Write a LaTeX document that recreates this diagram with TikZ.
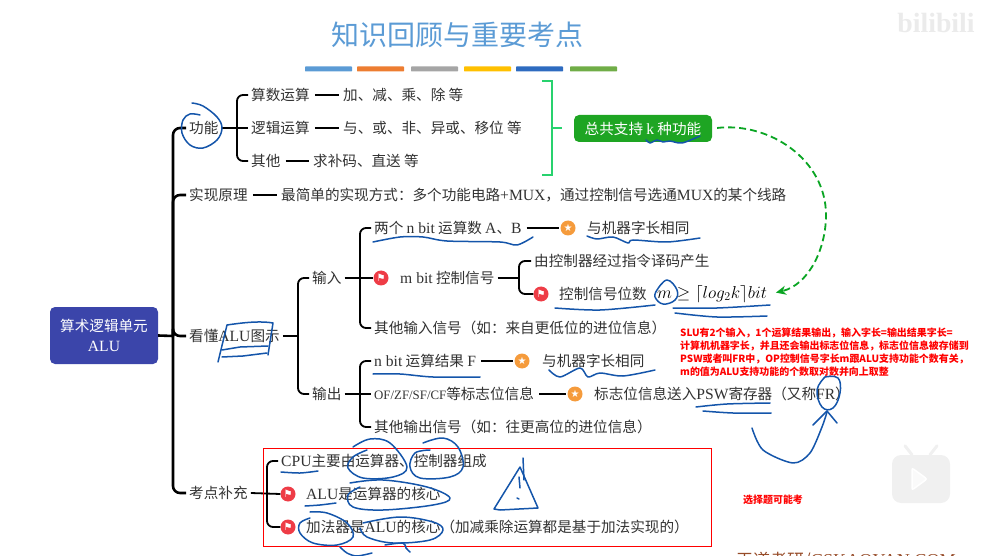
\documentclass[tikz,border=0pt]{standalone}
\usepackage{fontspec}
\setmainfont{Noto Sans CJK SC}
\newfontfamily\latf[Scale=1.07]{Liberation Serif}
\newfontfamily\symf{DejaVu Sans}
\usetikzlibrary{arrows.meta,shapes.misc}
\definecolor{titleblue}{RGB}{91,155,213}
\definecolor{rootblue}{RGB}{59,69,170}
\definecolor{boxgreen}{RGB}{30,165,35}
\definecolor{brackgreen}{RGB}{40,210,110}
\definecolor{dashgreen}{RGB}{10,165,35}
\definecolor{inkblue}{RGB}{20,85,170}
\definecolor{badgeorange}{RGB}{245,155,60}
\definecolor{badgered}{RGB}{238,60,70}
\definecolor{mapgrey}{RGB}{50,50,50}
\newcommand{\lat}[1]{{\latf #1}}
\tikzset{
  item/.style={anchor=west,inner sep=3pt,text=mapgrey,font=\fontsize{14.6}{17}\selectfont},
  rootbox/.style={draw=none,fill=rootblue,rounded corners=5pt,text=white,align=center,
                  minimum width=108pt,minimum height=57pt,inner sep=0pt,
                  font=\fontsize{14.6}{20}\selectfont},
  greenbox/.style={fill=boxgreen,rounded corners=5pt,text=white,minimum width=138pt,
                   minimum height=27pt,inner sep=0pt,font=\fontsize{14.6}{17}\selectfont},
  stembar/.style={draw=black,line width=2.6pt,rounded corners=7pt},
  brace/.style={draw=black,line width=1.8pt,rounded corners=6pt},
  dashlink/.style={draw=black,line width=1.8pt,shorten <=2pt,shorten >=1pt},
  greenbrace/.style={draw=brackgreen,line width=1.6pt},
  dashback/.style={draw=dashgreen,line width=1.8pt,dash pattern=on 7pt off 4pt,shorten <=5pt,
                   shorten >=6pt,-{Stealth[length=10pt,width=9pt,inset=3pt]}},
  starbadge/.style={circle,fill=badgeorange,text=white,minimum size=15pt,inner sep=0pt,
                    font=\symf\fontsize{10}{10}\selectfont},
  flagbadge/.style={circle,fill=badgered,text=white,minimum size=15pt,inner sep=0pt,
                    font=\symf\fontsize{10}{10}\selectfont},
  ink/.style={draw=inkblue,line width=1.5pt,line cap=round,line join=round},
  redtext/.style={anchor=west,inner sep=0pt,text=red,font=\bfseries\fontsize{9.95}{12}\selectfont},
  colorbar/.style={minimum width=47pt,minimum height=5pt,inner sep=0pt,rounded corners=.6pt},
}
\begin{document}
\begin{tikzpicture}[x=1pt,y=-1pt]
  \useasboundingbox (0,0) rectangle (983,556);
  \clip (0,0) rectangle (983,556);
  % title and the colour strip
  \node[text=titleblue,font=\fontsize{28}{30}\selectfont] (title) at (457,35) {知识回顾与重要考点};
  \node[colorbar,fill=titleblue] (bar1) at (328.5,69) {};
  \node[colorbar,fill={rgb,255:red,237;green,125;blue,49}] (bar2) at (380.5,69) {};
  \node[colorbar,fill={rgb,255:red,165;green,165;blue,165}] (bar3) at (434.5,69) {};
  \node[colorbar,fill={rgb,255:red,255;green,192;blue,0}] (bar4) at (487.5,69) {};
  \node[colorbar,fill={rgb,255:red,46;green,107;blue,192}] (bar5) at (539.5,69) {};
  \node[colorbar,fill={rgb,255:red,112;green,173;blue,71}] (bar6) at (593.5,69) {};
  % root and first level
  \node[rootbox] (root) at (104,335.5) {算术逻辑单元\\\lat{ALU}};
  \coordinate (hub) at (173,336);
  \node[item] (gongneng) at (186,128) {功能};
  \node[item] (yuanli) at (186,195) {实现原理};
  \node[item] (kandong) at (186,336) {看懂\lat{ALU}图示};
  \node[item] (kaodian) at (186,493) {考点补充};
  \draw[stembar] (root.east) -- (hub);
  \foreach \n in {gongneng,yuanli,kandong,kaodian}
    \draw[stembar] (hub) |- (\n.west);
  % gongneng branch
  \coordinate (hubg) at (237,128);
  \node[item] (suan) at (248,95) {算数运算};
  \node[item] (luoji) at (248,128) {逻辑运算};
  \node[item] (qita) at (248,161) {其他};
  \node[item] (suanv) at (340,95) {加、减、乘、除 等};
  \node[item] (luojiv) at (340,128) {与、或、非、异或、移位 等};
  \node[item] (qitav) at (310,161) {求补码、直送 等};
  \draw[brace] (gongneng.east) -- (luoji.west);
  \foreach \n in {suan,qita}
    \draw[brace] (hubg) |- (\n.west);
  \draw[dashlink] (suan) -- (suanv);
  \draw[dashlink] (luoji) -- (luojiv);
  \draw[dashlink] (qita) -- (qitav);
  % green summary
  \node[greenbox] (zonggong) at (643,128.5) {总共支持 \lat{k} 种功能};
  \coordinate (gtop) at (542,81);
  \coordinate (gbot) at (542,175);
  \draw[greenbrace] (gtop) -- (552,81) -- (552,175) -- (gbot);
  \draw[greenbrace] (552,128) -- (562,128);
  % principle
  \node[item] (yuanliv) at (278,195) {最简单的实现方式：多个功能电路\lat{+MUX}，通过控制信号选通\lat{MUX}的某个线路};
  \draw[dashlink] (yuanli) -- (yuanliv);
  % ALU picture: input and output
  \coordinate (hubk) at (298,336);
  \node[item] (shuru) at (309,278) {输入};
  \node[item] (shuchu) at (309,394) {输出};
  \draw[brace] (kandong.east) -- (hubk);
  \foreach \n in {shuru,shuchu}
    \draw[brace] (hubk) |- (\n.west);
  % inputs
  \coordinate (hubi) at (360,278);
  \node[item] (inab) at (371,228) {两个 \lat{n bit} 运算数 \lat{A}、\lat{B}};
  \node[starbadge] (staria) at (568,228) {★};
  \node[item] (inabv) at (584,228) {与机器字长相同};
  \node[flagbadge] (flagc) at (381,278) {⚑};
  \node[item] (inctl) at (397,278) {\lat{m bit} 控制信号};
  \node[item] (inoth) at (371,328) {其他输入信号（如：来自更低位的进位信息）};
  \draw[brace] (shuru.east) -- (flagc.west);
  \foreach \n in {inab,inoth}
    \draw[brace] (hubi) |- (\n.west);
  \draw[dashlink] (inab) -- (staria);
  % control signal
  \coordinate (hubc) at (519,278);
  \node[item] (ctla) at (531,261) {由控制器经过指令译码产生};
  \node[flagbadge] (flagb) at (541,294) {⚑};
  \node[item] (ctlb) at (556,294) {控制信号位数};
  \node[item,font=\fontsize{17}{20}\selectfont,text=black] (formula) at (654,294) {$m \geq \lceil log_2k\rceil bit$};
  \draw[brace] (inctl.east) -- (hubc);
  \draw[brace] (hubc) |- (ctla.west);
  \draw[brace] (hubc) |- (flagb.west);
  % outputs
  \coordinate (hubo) at (360,394);
  \node[item] (outf) at (371,361) {\lat{n bit} 运算结果 \lat{F}};
  \node[starbadge] (starf) at (522,361) {★};
  \node[item] (outfv) at (539,361) {与机器字长相同};
  \node[item] (outs) at (371,394) {{\latf\fontsize{12}{15}\selectfont OF/ZF/SF/CF}等标志位信息};
  \node[starbadge] (stars) at (575,394) {★};
  \node[item] (outsv) at (591,394) {标志位信息送入\lat{PSW}寄存器（又称\lat{FR}）};
  \node[item] (outo) at (371,427) {其他输出信号（如：往更高位的进位信息）};
  \draw[brace] (shuchu.east) -- (outs.west);
  \foreach \n in {outf,outo}
    \draw[brace] (hubo) |- (\n.west);
  \draw[dashlink] (outf) -- (starf);
  \draw[dashlink] (outs) -- (stars);
  % exam points
  \coordinate (hubp) at (267,494);
  \node[item] (cpu) at (278,461) {\lat{CPU}主要由运算器、控制器组成};
  \node[flagbadge] (flagalu) at (288,494) {⚑};
  \node[item] (alu) at (303,494) {\lat{ALU}是运算器的核心};
  \node[flagbadge] (flagadd) at (288,527) {⚑};
  \node[item] (adder) at (303,527) {加法器是\lat{ALU}的核心（加减乘除运算都是基于加法实现的）};
  \draw[brace] (kaodian.east) -- (flagalu.west);
  \draw[brace] (hubp) |- (cpu.west);
  \draw[brace] (hubp) |- (flagadd.west);
  \node[draw=red,line width=.8pt,minimum width=448pt,minimum height=98pt,inner sep=0pt] (redbox) at (487,497) {};
  % the long dashed arrow
  \draw[dashback] (zonggong.east) .. controls (770,122) and (826,160) .. (826,215)
    .. controls (826,250) and (808,285) .. (formula.east);
  % red notes
  \node[redtext] (note1) at (680,332.5) {SLU有2个输入，1个运算结果输出，输入字长=输出结果字长=};
  \node[redtext] (note2) at (680,345.5) {计算机机器字长，并且还会输出标志位信息，标志位信息被存储到};
  \node[redtext] (note3) at (680,358.5) {PSW或者叫FR中，OP控制信号字长m跟ALU支持功能个数有关，};
  \node[redtext] (note4) at (680,371.5) {m的值为ALU支持功能的个数取对数并向上取整};
  \node[redtext] (note5) at (743,500) {选择题可能考};
  % handwriting
  \draw[ink] plot[smooth,tension=.6] coordinates {(192,103) (203,106) (217,117) (222,128) (217,140) (203,148) (190,145) (182,133) (183,120) (190,114) (200,115)};
  \draw[ink] plot[smooth] coordinates {(373,242) (400,237) (423,237) (447,241) (500,242) (517,245) (533,237)};
  \draw[ink] plot[smooth] coordinates {(587,236) (597,239) (613,237) (628,243) (633,240) (667,242) (700,238)};
  \draw[ink] plot[smooth] coordinates {(646,140) (650,143) (657,140) (663,142) (670,141) (682,143) (700,136)};
  \draw[ink] (218,362) -- (227,325) .. controls (247,322) and (262,321) .. (273,323) -- (268,355);
  \draw[ink] (222,350) -- (240,347) -- (268,346);
  \draw[ink] (222,357) -- (243,356) -- (267,353);
  \draw[ink] plot[smooth] coordinates {(373,374) (400,374) (433,377) (480,377)};
  \draw[ink] plot[smooth] coordinates {(281,472) (300,473) (318,471)};
  \draw[ink] plot[smooth,tension=.6] coordinates {(353,447) (370,439) (390,443) (407,467) (393,477) (363,478) (348,468) (353,457) (367,450)};
  \draw[ink] plot[smooth,tension=.6] coordinates {(423,443) (443,438) (458,447) (463,467) (450,477) (420,478) (410,467) (415,453) (430,450)};
  \draw[ink] plot[smooth] coordinates {(305,506) (320,505) (336,503)};
  \draw[ink] plot[smooth,tension=.6] coordinates {(350,483) (383,480) (427,487) (450,498) (433,505) (383,510) (353,507) (348,495) (360,487)};
  \draw[ink] plot[smooth,tension=.6] coordinates {(310,512) (327,513) (347,523) (353,537) (337,545) (313,543) (300,533) (300,523) (310,518)};
  \draw[ink] plot[smooth,tension=.6] coordinates {(363,523) (400,517) (433,522) (443,530) (430,540) (393,543) (367,537) (360,528)};
  \draw[ink] plot[smooth] coordinates {(340,547) (347,553) (357,556) (372,553)};
  \draw[ink] plot[smooth] coordinates {(385,545) (403,543) (406,548) (410,552)};
  \draw[ink] (494,509) -- (520,467) -- (538,508) -- (500,510) -- cycle;
  \draw[ink] (523,458) -- (524,480);
  \draw[ink] (519,477) -- (520,488);
  \draw[ink] (517,498) -- (519,499);
  \draw[ink] plot[smooth] coordinates {(555,308) (600,310) (655,305)};
  \draw[ink] plot[smooth,tension=.7] coordinates {(657,290) (667,280) (677,290) (675,300) (663,304) (655,297) (657,290)};
  \draw[ink] plot[smooth] coordinates {(673,308) (717,308) (770,305)};
  \draw[ink] plot[smooth] coordinates {(675,313) (717,317) (767,316)};
  \draw[ink] plot[smooth] coordinates {(549,370) (560,377) (580,368) (588,377) (600,373) (623,376) (655,370)};
  \draw[ink] plot[smooth] coordinates {(696,407) (727,404) (770,403)};
  \draw[ink] plot[smooth] coordinates {(703,411) (733,413) (771,413)};
  \draw[ink] plot[smooth,tension=.7] coordinates {(825,377) (838,378) (840,393) (833,408) (822,407) (817,390) (825,377)};
  \draw[ink] plot[smooth] coordinates {(752,428) (763,450) (793,463) (810,453) (822,427) (827,412)};
  \draw[ink] (813,425) -- (827,411) -- (837,423);
  % watermarks
  \node[text=black!8,font=\latf\bfseries\fontsize{26}{28}\selectfont] (bili) at (936,23) {bilibili};
  \node[fill=black!6,rounded corners=9pt,minimum width=58pt,minimum height=48pt,inner sep=0pt] (playbox) at (921,479) {};
  \draw[black!6,line width=3pt,line cap=round] (playbox.north) ++(-9,0) -- ++(-7,-9);
  \draw[black!6,line width=3pt,line cap=round] (playbox.north) ++(9,0) -- ++(7,-9);
  \draw[white,fill=black!2,line width=1.5pt,rounded corners=2pt] (912,468) -- (912,490) -- (927,479) -- cycle;
  \node[anchor=west,inner sep=0pt,text={rgb,255:red,150;green,75;blue,40},font=\fontsize{17}{18}\selectfont] (brand) at (736,561) {王道考研/\lat{CSKAOYAN.COM}};
\end{tikzpicture}
\end{document}
